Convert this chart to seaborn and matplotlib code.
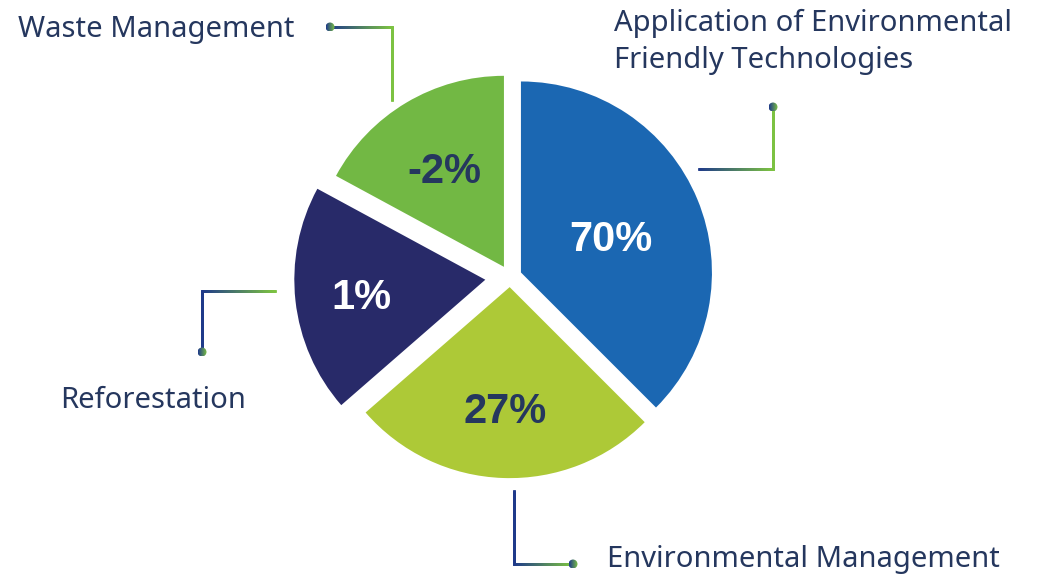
import numpy as np
import matplotlib
matplotlib.use("Agg")
import matplotlib.pyplot as plt
import seaborn as sns
from matplotlib.collections import LineCollection
from matplotlib.colors import LinearSegmentedColormap
from matplotlib.patches import Circle

# --- data -------------------------------------------------------------
categories = [
    "Application of Environmental\nFriendly Technologies",
    "Environmental Management",
    "Reforestation",
    "Waste Management",
]
shares = [37.5, 26.1, 19.3, 17.1]          # wedge sizes
value_labels = ["70%", "27%", "1%", "-2%"]  # figures printed on the wedges

# --- style ------------------------------------------------------------
sns.set_theme(style="white")
plt.rcParams["font.family"] = ["Noto Sans", "DejaVu Sans"]

colors = sns.color_palette(["#1B67B2", "#ADC937", "#282A69", "#72B844"])
value_colors = ["white", "#25375E", "white", "#25375E"]
explode_frac = [0.062, 0.053, 0.13, 0.062]   # offset as a share of the radius
label_frac = [0.51, 0.63, 0.65, 0.61]
text_color = "#25375E"
NAVY, GREEN = "#1F3A8A", "#7CC242"
grad = LinearSegmentedColormap.from_list("navy_green", [NAVY, GREEN])

W, H = 1039, 574
fig = plt.figure(figsize=(W / 100, H / 100), dpi=100)
ax = fig.add_axes([0, 0, 1, 1])
ax.set_xlim(0, W)
ax.set_ylim(0, H)
ax.set_aspect("equal")
ax.axis("off")


def Y(y):
    return H - y


center = (510, Y(277))
radius = 191
wedges, _ = ax.pie(
    shares, colors=colors, explode=[f * radius for f in explode_frac],
    startangle=90, counterclock=False, center=center, radius=radius,
    wedgeprops=dict(linewidth=0),
)
ax.set_xlim(0, W)
ax.set_ylim(0, H)

for w, lab, col, frac in zip(wedges, value_labels, value_colors, label_frac):
    mid = np.deg2rad((w.theta1 + w.theta2) / 2)
    cx, cy = w.center
    ax.text(cx + frac * w.r * np.cos(mid), cy + frac * w.r * np.sin(mid) - 5, lab,
            ha="center", va="center", color=col, fontsize=30,
            fontweight="bold", family=["Liberation Sans", "DejaVu Sans"])


def grad_line(p0, p1, c0, c1, n=60):
    xs = np.linspace(p0[0], p1[0], n + 1)
    ys = np.linspace(Y(p0[1]), Y(p1[1]), n + 1)
    segs = np.stack([np.column_stack([xs[:-1], ys[:-1]]),
                     np.column_stack([xs[1:], ys[1:]])], axis=1)
    lc = LineCollection(segs, colors=grad(np.linspace(c0, c1, n)),
                        linewidths=2.0, capstyle="projecting")
    ax.add_collection(lc)


def dot(x, y, r=4.5):
    img = np.linspace(0, 1, 32)[None, :].repeat(32, axis=0)
    im = ax.imshow(img, cmap=grad, extent=(x - r, x + r, Y(y) - r, Y(y) + r),
                   zorder=5, interpolation="bilinear")
    im.set_clip_path(Circle((x, Y(y)), r, transform=ax.transData))


# Waste Management callout
grad_line((330, 27), (392, 27), 0.0, 1.0)
grad_line((392, 27), (392, 100), 1.0, 1.0)
dot(330, 27)
# Application callout
grad_line((699, 169), (773, 169), 0.0, 1.0)
grad_line((773, 169), (773, 107), 1.0, 1.0)
dot(773, 107)
# Reforestation callout
grad_line((202, 291), (275, 291), 0.0, 1.0)
grad_line((202, 291), (202, 352), 0.0, 0.0)
dot(202, 352)
# Environmental Management callout
grad_line((514, 491), (514, 564), 0.0, 0.0)
grad_line((514, 564), (573, 564), 0.0, 1.0)
dot(573, 564)

ax.set_xlim(0, W)
ax.set_ylim(0, H)

lbl = dict(fontsize=21, color=text_color, va="center")
ax.text(614, Y(42), categories[0], ha="left", linespacing=1.4, **lbl)
ax.text(607, Y(560), categories[1], ha="left", **lbl)
ax.text(60, Y(401), categories[2], ha="left", **lbl)
ax.text(18, Y(29), categories[3], ha="left", **lbl)

fig.savefig("out.png", dpi=100, facecolor="white")
